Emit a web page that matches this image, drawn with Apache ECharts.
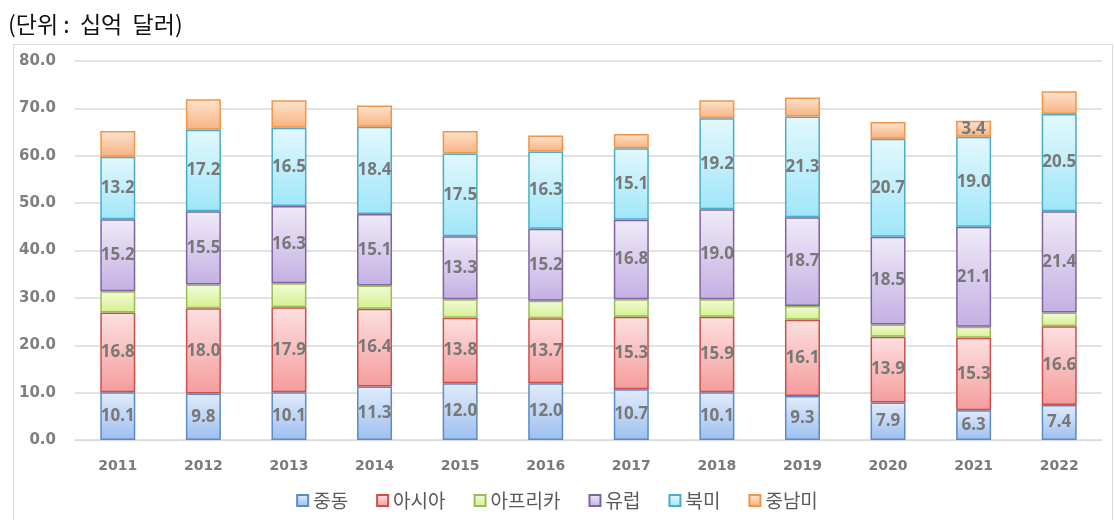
<!DOCTYPE html>
<html><head><meta charset="utf-8">
<script src="https://cdn.jsdelivr.net/npm/echarts@6/dist/echarts.min.js"></script>
<style>html,body{margin:0;padding:0;background:#fff}#c{width:1114px;height:520px}</style>
</head><body><div id="c"></div>
<script>
const years = ['2011','2012','2013','2014','2015','2016','2017','2018','2019','2020','2021','2022'];
const middleEast = [10.1, 9.8, 10.1, 11.3, 12.0, 12.0, 10.7, 10.1, 9.3, 7.9, 6.3, 7.4];
const asia = [16.8, 18.0, 17.9, 16.4, 13.8, 13.7, 15.3, 15.9, 16.1, 13.9, 15.3, 16.6];
const africa = [4.5, 5.0, 5.1, 4.9, 3.9, 3.7, 3.7, 3.7, 2.9, 2.6, 2.3, 2.9];
const europe = [15.2, 15.5, 16.3, 15.1, 13.3, 15.2, 16.8, 19.0, 18.7, 18.5, 21.1, 21.4];
const northAmerica = [13.2, 17.2, 16.5, 18.4, 17.5, 16.3, 15.1, 19.2, 21.3, 20.7, 19.0, 20.5];
const latinAmerica = [5.4, 6.4, 5.8, 4.5, 4.7, 3.4, 3.0, 3.8, 4.0, 3.5, 3.4, 4.8];
const latinLabeled = ['2021'];
const yTicks = [0, 10, 20, 30, 40, 50, 60, 70, 80];

const grad = (top, bottom) => new echarts.graphic.LinearGradient(0, 0, 0, 1, [
  {offset: 0, color: top}, {offset: 1, color: bottom}]);

const labelStyle = {show: true, position: 'inside', color: '#787878', fontWeight: 'bold',
  fontSize: 17, fontFamily: 'Noto Sans', formatter: p => Number(p.value).toFixed(1)};

function mk(name, data, top, bottom, border, showLabel) {
  return {
    name, type: 'bar', stack: 'total', barWidth: 35, data,
    itemStyle: {color: grad(top, bottom), borderColor: border, borderWidth: 1.5},
    label: Object.assign({}, labelStyle, {show: showLabel}),
    emphasis: {disabled: true}
  };
}

const latinData = latinAmerica.map((v, i) => latinLabeled.includes(years[i]) ? {value: v, label: {show: true}} : v);

const chart = echarts.init(document.getElementById('c'));
chart.setOption({
  animation: false,
  textStyle: {fontFamily: 'Noto Sans CJK KR'},
  title: {text: '(단위 :  십억  달러)', left: 3, top: 8,
    textStyle: {fontSize: 23, fontWeight: 'normal', color: '#111', fontFamily: 'Noto Sans CJK KR'}},
  graphic: [{type: 'rect', left: 11, top: 42, shape: {width: 1099, height: 490},
    style: {fill: 'none', stroke: '#d9d9d9', lineWidth: 1}, silent: true}],
  legend: {bottom: 5, left: 'center', icon: 'rect', itemWidth: 11, itemHeight: 11, itemGap: 28,
    textStyle: {fontSize: 19, color: '#595959', fontFamily: 'Noto Sans CJK KR'},
    data: ['중동', '아시아', '아프리카', '유럽', '북미', '중남미']},
  grid: {left: 75, right: 12, top: 61, bottom: 80},
  xAxis: {type: 'category', data: years,
    axisLine: {lineStyle: {color: '#d9d9d9'}}, axisTick: {show: false},
    axisLabel: {color: '#7a7a7a', fontWeight: 'bold', fontSize: 14, margin: 19, fontFamily: 'DejaVu Sans'}},
  yAxis: {type: 'value', min: yTicks[0], max: yTicks[yTicks.length - 1], interval: 10,
    axisLine: {show: false}, axisTick: {show: false},
    splitLine: {lineStyle: {color: '#d9d9d9', width: 1.5}},
    axisLabel: {color: '#7f7f7f', fontWeight: 'bold', fontSize: 15, margin: 19, fontFamily: 'DejaVu Sans',
      formatter: v => v.toFixed(1)}},
  series: [
    mk('중동', middleEast, '#e2ecfb', '#9dbff0', '#5b8bc9', true),
    mk('아시아', asia, '#fde0e0', '#f59c9c', '#c9504d', true),
    mk('아프리카', africa, '#f3fbd9', '#d5f08e', '#9bbb59', false),
    mk('유럽', europe, '#f0eaf8', '#c3b0e3', '#8064a2', true),
    mk('북미', northAmerica, '#e3f8fd', '#9fe6f9', '#4bacc6', true),
    mk('중남미', latinData, '#fde4cf', '#f8b27e', '#f0954a', false)
  ]
});
</script></body></html>
